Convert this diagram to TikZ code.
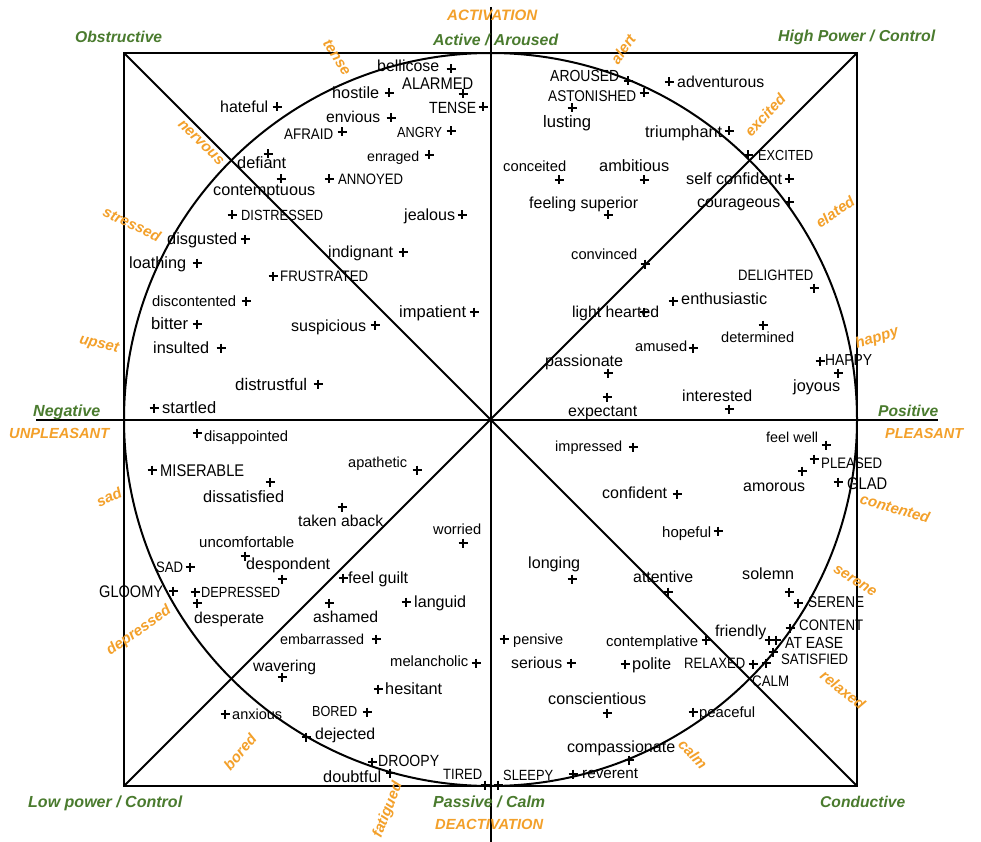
\documentclass[tikz,border=0pt]{standalone}
\usepackage{fontspec}
\setmainfont{Liberation Sans}
\newfontfamily\capfont[FakeStretch=0.87]{Liberation Sans}
\definecolor{grn}{HTML}{4A7B2E}
\definecolor{org}{HTML}{F3A02A}
\newcounter{wc}
\newlength\wordwd
\newsavebox\wordbox
% typeset #3 in font #1 so that its width is #2 (pt); shifted so the node baseline is the visual centre
\newcommand\fitword[3]{%
  \sbox\wordbox{#1\fontsize{10}{12}\selectfont #3}%
  \wordwd=\wd\wordbox\relax
  \pgfmathsetmacro\fsz{10*(#2)/\wordwd}%
  \pgfmathsetmacro\fszr{0.36*\fsz}%
  \raisebox{-\fszr pt}{#1\fontsize{\fsz}{\fsz}\selectfont #3}%
}
\tikzset{
  ln/.style={line width=2pt, black},
  word/.style={anchor=base west, inner sep=0pt, text=black},
  rlab/.style={inner sep=0pt, text=org, font=\bfseries\itshape\fontsize{15}{15}\selectfont},
  plusmark/.pic={\draw[line width=1.8pt] (-4.5,0) -- (4.5,0) (0,-4.5) -- (0,4.5);}
}
% [font] plus-x plus-y left-x right-x centre-y text
\newcommand\emo[7][]{%
  \pic at (#2,#3) {plusmark};
  \stepcounter{wc}%
  \node[word] (w\arabic{wc}) at (#4,#6) {\fitword{#1}{#5-#4}{#7}};
}
\newcommand\glab[5]{%
  \stepcounter{wc}%
  \node[word, text=#1] (w\arabic{wc}) at (#2,#4) {\fitword{\bfseries\itshape}{#3-#2}{#5}};
}
\newcommand\olab[4]{%
  \stepcounter{wc}%
  \node[rlab, rotate=#3] (w\arabic{wc}) at (#1,#2) {#4};
}
\begin{document}
\begin{tikzpicture}[x=1pt,y=-1pt]
\useasboundingbox (0,0) rectangle (981,842);
\fill[white] (0,0) rectangle (981,842);
% frame
\draw[ln] (124,53) rectangle (857,786);
\draw[ln] (124,53) -- (857,786);
\draw[ln] (857,53) -- (124,786);
\draw[ln] (490.5,7) -- (490.5,842);
\draw[ln] (36,419.5) -- (938,419.5);
\draw[ln] (490.5,419.5) circle[radius=366.5];
% green and orange axis labels
\glab{grn}{75}{162}{37}{Obstructive}
\glab{grn}{433}{558}{40}{Active / Aroused}
\glab{grn}{778}{935}{36}{High Power / Control}
\glab{grn}{33}{100}{411}{Negative}
\glab{grn}{878}{938}{411}{Positive}
\glab{grn}{28}{182}{802}{Low power / Control}
\glab{grn}{433}{545}{802}{Passive / Calm}
\glab{grn}{820}{905}{802}{Conductive}
\glab{org}{447}{537}{15}{ACTIVATION}
\glab{org}{9}{109}{433}{UNPLEASANT}
\glab{org}{885}{963}{433}{PLEASANT}
\glab{org}{435}{543}{824}{DEACTIVATION}
% rotated orange labels
\olab{337}{57}{-57}{tense}
\olab{623}{49}{55}{alert}
\olab{201}{143}{-44}{nervous}
\olab{765}{115}{47}{excited}
\olab{132}{224}{-25}{stressed}
\olab{835}{212}{35}{elated}
\olab{99}{345}{-13}{upset}
\olab{877}{338}{17}{happy}
\olab{109}{497}{24}{sad}
\olab{895}{508}{-16}{contented}
\olab{139}{631}{35}{depressed}
\olab{855}{581}{-33}{serene}
\olab{240}{752}{50}{bored}
\olab{843}{690}{-39}{relaxed}
\olab{388}{810}{69}{fatigued}
\olab{693}{754}{-47}{calm}
% upper left
\emo{277}{107}{220}{268}{107}{hateful}
\emo{451}{69}{377}{439}{66}{bellicose}
\emo[\capfont]{463}{94}{402}{473}{83}{ALARMED}
\emo{389}{93}{332}{379}{93}{hostile}
\emo[\capfont]{483}{107}{429}{476}{108}{TENSE}
\emo{391}{118}{326}{380}{117}{envious}
\emo[\capfont]{342}{132}{284}{333}{134}{AFRAID}
\emo[\capfont]{451}{131}{397}{442}{132}{ANGRY}
\emo{429}{155}{367}{419}{156}{enraged}
\emo{268}{154}{237}{286}{163}{defiant}
\emo{281}{179}{213}{315}{190}{contemptuous}
\emo[\capfont]{329}{179}{338}{403}{179}{ANNOYED}
\emo[\capfont]{232}{215}{241}{323}{215}{DISTRESSED}
\emo{462}{215}{404}{455}{215}{jealous}
\emo{245}{239}{167}{237}{239}{disgusted}
\emo{197}{263}{129}{186}{263}{loathing}
\emo{403}{252}{328}{393}{252}{indignant}
\emo[\capfont]{273}{276}{280}{368}{276}{FRUSTRATED}
\emo{246}{301}{152}{236}{301}{discontented}
\emo{197}{324}{151}{188}{324}{bitter}
\emo{474}{312}{399}{466}{312}{impatient}
\emo{375}{325}{291}{366}{326}{suspicious}
\emo{221}{348}{153}{209}{348}{insulted}
\emo{318}{384}{235}{307}{384}{distrustful}
\emo{154}{408}{162}{216}{408}{startled}
% upper right
\emo[\capfont]{628}{81}{550}{619}{76}{AROUSED}
\emo[\capfont]{644}{93}{548}{636}{96}{ASTONISHED}
\emo{572}{108}{543}{591}{122}{lusting}
\emo{669}{82}{677}{764}{82}{adventurous}
\emo{729}{131}{645}{722}{132}{triumphant}
\emo[\capfont]{748}{155}{758}{813}{155}{EXCITED}
\emo{559}{180}{503}{566}{166}{conceited}
\emo{644}{180}{599}{669}{166}{ambitious}
\emo{789}{179}{686}{782}{179}{self confident}
\emo{608}{215}{529}{638}{203}{feeling superior}
\emo{789}{202}{697}{780}{202}{courageous}
\emo{645}{264}{571}{637}{254}{convinced}
\emo[\capfont]{814}{288}{738}{813}{275}{DELIGHTED}
\emo{673}{301}{681}{767}{299}{enthusiastic}
\emo{644}{312}{572}{659}{312}{light hearted}
\emo{763}{325}{721}{794}{337}{determined}
\emo{693}{348}{635}{687}{346}{amused}
\emo{608}{373}{545}{623}{361}{passionate}
\emo[\capfont]{820}{361}{825}{872}{360}{HAPPY}
\emo{838}{373}{793}{840}{386}{joyous}
\emo{729}{409}{682}{752}{396}{interested}
\emo{607}{397}{568}{637}{411}{expectant}
% lower left
\emo{197}{433}{204}{288}{436}{disappointed}
\emo[\capfont]{152}{470}{160}{244}{470}{MISERABLE}
\emo{270}{482}{203}{284}{497}{dissatisfied}
\emo{417}{470}{348}{407}{462}{apathetic}
\emo{342}{507}{298}{383}{521}{taken aback}
\emo{463}{543}{433}{481}{529}{worried}
\emo{245}{556}{199}{294}{542}{uncomfortable}
\emo{282}{579}{246}{330}{564}{despondent}
\emo[\capfont]{190}{567}{156}{183}{567}{SAD}
\emo{343}{578}{348}{408}{578}{feel guilt}
\emo[\capfont]{173}{591}{99}{163}{591}{GLOOMY}
\emo[\capfont]{195}{592}{201}{280}{592}{DEPRESSED}
\emo{197}{603}{194}{264}{618}{desperate}
\emo{329}{603}{313}{378}{617}{ashamed}
\emo{406}{602}{414}{466}{602}{languid}
\emo{376}{639}{280}{364}{639}{embarrassed}
\emo{282}{677}{253}{316}{666}{wavering}
\emo{476}{663}{390}{468}{661}{melancholic}
\emo{378}{689}{385}{442}{689}{hesitant}
\emo{225}{714}{232}{282}{714}{anxious}
\emo[\capfont]{367}{712}{312}{357}{711}{BORED}
\emo{306}{737}{315}{375}{734}{dejected}
\emo[\capfont]{372}{762}{378}{439}{761}{DROOPY}
\emo{390}{773}{323}{381}{777}{doubtful}
\emo[\capfont]{485}{785}{443}{482}{774}{TIRED}
\emo[\capfont]{498}{785}{503}{553}{775}{SLEEPY}
% lower right
\emo{633}{447}{555}{622}{446}{impressed}
\emo{826}{445}{766}{818}{437}{feel well}
\emo[\capfont]{814}{459}{821}{882}{463}{PLEASED}
\emo{802}{471}{743}{805}{486}{amorous}
\emo[\capfont]{838}{482}{847}{887}{483}{GLAD}
\emo{677}{494}{602}{667}{493}{confident}
\emo{718}{531}{662}{711}{532}{hopeful}
\emo{572}{579}{528}{580}{563}{longing}
\emo{668}{592}{633}{693}{577}{attentive}
\emo{789}{592}{742}{794}{574}{solemn}
\emo[\capfont]{798}{603}{808}{864}{602}{SERENE}
\emo[\capfont]{790}{628}{799}{863}{625}{CONTENT}
\emo{769}{640}{715}{766}{631}{friendly}
\emo[\capfont]{776}{640}{785}{843}{643}{AT EASE}
\emo{504}{639}{513}{563}{639}{pensive}
\emo{706}{640}{606}{698}{641}{contemplative}
\emo{571}{663}{511}{562}{663}{serious}
\emo{625}{664}{632}{671}{664}{polite}
\emo[\capfont]{753}{664}{684}{745}{663}{RELAXED}
\emo[\capfont]{766}{663}{752}{789}{681}{CALM}
\emo[\capfont]{773}{652}{781}{848}{659}{SATISFIED}
\emo{607}{713}{548}{646}{699}{conscientious}
\emo{693}{712}{699}{755}{712}{peaceful}
\emo{629}{760}{567}{675}{747}{compassionate}
\emo{573}{774}{582}{638}{773}{reverent}
\end{tikzpicture}
\end{document}
